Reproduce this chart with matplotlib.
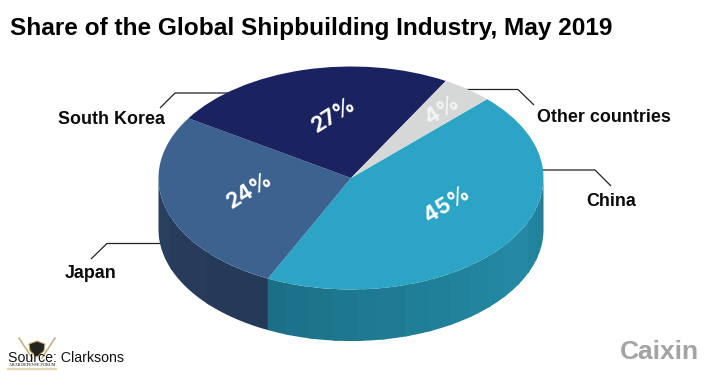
import numpy as np
import matplotlib
matplotlib.use("Agg")
import matplotlib.pyplot as plt
from matplotlib.colors import to_rgb

W, H = 705, 375
categories = ["China", "Japan", "South Korea", "Other countries"]
printed_share = [45, 24, 27, 4]
# the slices as they are actually drawn in the picture (clockwise from 45 degrees)
drawn_share = [44.6, 26.9, 24.2, 4.3]
slice_colors = ["#2ba4c5", "#3c628f", "#1a2260", "#d6d7d7"]
wall_dark = ["#1b7087", "#253a58"]
wall_light = ["#2489a4", "#283f5d"]

CX, CY, RX, RY, DEPTH = 351, 178, 192.5, 111.5, 51.5

fig = plt.figure(figsize=(W / 100, H / 100), dpi=100, facecolor="white")
ax = fig.add_axes([0, 0, 1, 1])

def ux(px):
    return (px - CX) / RX
def uy(py):
    return (CY - py) / RY

START = 45
ends = START - np.cumsum(drawn_share) * 3.6

# side wall
d = DEPTH / RY
def facet(a0, a1, col, z):
    t = np.radians(np.linspace(a0, a1, 10))
    x = np.r_[np.cos(t), np.cos(t[::-1])]
    y = np.r_[np.sin(t), np.sin(t[::-1]) - d]
    ax.fill(x, y, facecolor=col, edgecolor="none", linewidth=0, zorder=z)

def mix(c0, c1, f):
    a, b = np.array(to_rgb(c0)), np.array(to_rgb(c1))
    return tuple(a + (b - a) * f)

teal_from = 360 + ends[0]
edges = np.linspace(teal_from, 360, 17)
for i in range(16):
    f = min(1.0, i / 11)
    c = mix(wall_dark[0], wall_light[0], f)
    if i >= 13:
        c = mix(wall_light[0], "#1f7e96", (i - 12) / 3)
    facet(edges[i] if i == 0 else edges[i] - 1.5, edges[i + 1], c, 1 + i * 0.01)
edges = np.linspace(180, teal_from, 4)
for i in range(3):
    facet(edges[i] if i == 0 else edges[i] - 1.5, edges[i + 1],
          mix(wall_light[1], wall_dark[1], min(1, i / 1.5)), 1 + i * 0.001)

# top of the pie
wedges, _ = ax.pie(drawn_share, colors=slice_colors, startangle=START, counterclock=False,
                   radius=1, wedgeprops=dict(linewidth=0))
for w in wedges:
    w.set_zorder(2)
ax.set_aspect("auto")
ax.set_xlim(ux(0), ux(W))
ax.set_ylim(uy(H), uy(0))
ax.axis("off")

# percent labels
label_px = [(447, 205), (250, 191), (334, 115), (442, 110)]
for (px, py), v in zip(label_px, printed_share):
    ax.text(ux(px), uy(py), f"{v}%", color="#ffffff" if v != 4 else "#f4f4f4", fontsize=15.5,
            fontweight="bold", family="Inter", rotation=32, rotation_mode="anchor",
            ha="center", va="center", zorder=5)

# leader lines
leaders = {
    "China": [(542, 170), (595, 170), (611, 186)],
    "Japan": [(91, 259), (107, 243.5), (165, 243.5)],
    "South Korea": [(160, 108), (175, 93), (230, 93)],
    "Other countries": [(465, 89.5), (518, 89.5), (534, 105)],
}
for pts in leaders.values():
    xs = [ux(p[0]) for p in pts]
    ys = [uy(p[1]) for p in pts]
    ax.plot(xs, ys, color="#222222", lw=0.9, zorder=0.5, solid_capstyle="butt")

name_px = {"China": (586, 201.5), "Japan": (65, 274), "South Korea": (58, 120), "Other countries": (537, 117.5)}
for k, (px, py) in name_px.items():
    ax.text(ux(px), uy(py), k, fontsize=12.9, fontweight="bold", family="Liberation Sans",
            color="#0a0a0a", ha="left", va="center", zorder=5)

ax.text(ux(10), uy(28), "Share of the Global Shipbuilding Industry, May 2019", fontsize=17.6,
        fontweight="bold", family="Liberation Sans", color="black", ha="left", va="center")

# watermark emblem behind source text
shield = [(29, 344), (37, 341), (45, 344), (44, 351), (37, 357), (30, 351)]
ax.fill([ux(p[0]) for p in shield], [uy(p[1]) for p in shield], facecolor="#23231f",
        edgecolor="#c8ae6c", lw=0.8, zorder=3)
ax.plot([ux(19), ux(32)], [uy(338), uy(358)], color="#c0ad7a", lw=1.1, zorder=3)
ax.plot([ux(55), ux(42)], [uy(338), uy(358)], color="#c0ad7a", lw=1.1, zorder=3)
ax.plot([ux(8), ux(56)], [uy(369), uy(369)], color="#e3d6b2", lw=1.6, zorder=3)
ax.text(ux(32), uy(365), "ARAB DEFENSE FORUM", fontsize=2.9, color="#555048", family="Liberation Serif",
        fontweight="bold", ha="center", va="center", zorder=3)

ax.text(ux(8), uy(357.5), "Source: Clarksons", fontsize=10.2, family="Liberation Sans",
        color="#111111", ha="left", va="center", zorder=4)
ax.text(ux(620), uy(352), "Caixin", fontsize=19, fontweight="bold", family="Liberation Sans",
        color="#a3a3a3", ha="left", va="center", zorder=4)

fig.savefig("out.png", dpi=100, facecolor="white")
